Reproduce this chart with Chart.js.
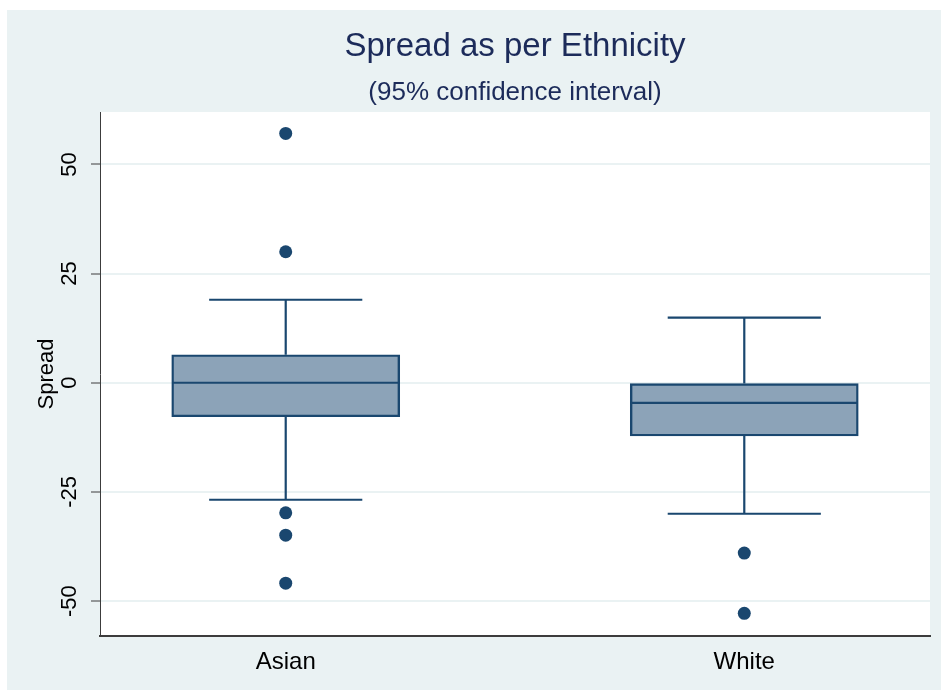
<!DOCTYPE html>
<html>
<head>
<meta charset="utf-8">
<title>Spread as per Ethnicity</title>
<script src="https://cdn.jsdelivr.net/npm/chart.js@4.4.0/dist/chart.umd.min.js"></script>
<style>
    html, body { margin: 0; padding: 0; background: #ffffff; }
    #wrap { position: relative; width: 941px; height: 690px; }
</style>
</head>
<body>
<div id="wrap"><canvas id="box-chart" width="941" height="690"></canvas></div>
<script>
// Box plot values
const categories = ['Asian', 'White'];
const whiskerLow = [-26.8, -30.0];
const lowerQuartile = [-7.8, -12.2];
const median = [0, -4.6];
const upperQuartile = [6.4, -0.2];
const whiskerHigh = [19.0, 14.9];
const outliers = [
    [57.1, 30.0, -29.8, -34.9, -45.9],
    [-39.0, -52.8]
];
const yTicks = [-50, -25, 0, 25, 50];

// Colours (Stata s2color look)
const NAVY = '#1a476f';
const BOX_FILL = '#8ca3b8';
const PANEL = '#eaf2f3';
const FONT = '"Liberation Sans", Arial, Helvetica, sans-serif';

// Positions on the category axis: 1, 2, ...
const xPos = categories.map((c, i) => i + 1);

const boxData = xPos.map((x, i) => ({ x: x, y: [lowerQuartile[i], upperQuartile[i]] }));
const outlierData = [];
outliers.forEach((list, i) => {
    list.forEach(v => outlierData.push({ x: xPos[i], y: v }));
});

/**
 * Background panel, white plot region, whiskers, medians and titles
 */
const boxPlotPlugin = {
    id: 'boxPlot',
    beforeDraw(chart) {
        const { ctx, chartArea } = chart;
        ctx.save();
        ctx.fillStyle = PANEL;
        ctx.fillRect(7, 10, chart.width - 7, chart.height - 10);
        ctx.fillStyle = '#ffffff';
        ctx.fillRect(chartArea.left, chartArea.top, chartArea.right - chartArea.left, chartArea.bottom - chartArea.top);
        ctx.restore();
    },
    beforeDatasetsDraw(chart) {
        const { ctx } = chart;
        const xs = chart.scales.x;
        const ys = chart.scales.y;
        const capHalf = 0.167;
        ctx.save();
        ctx.strokeStyle = NAVY;
        ctx.lineWidth = 2.2;
        xPos.forEach((x, i) => {
            const px = xs.getPixelForValue(x);
            const c0 = xs.getPixelForValue(x - capHalf);
            const c1 = xs.getPixelForValue(x + capHalf);
            const hi = ys.getPixelForValue(whiskerHigh[i]);
            const lo = ys.getPixelForValue(whiskerLow[i]);
            const q3 = ys.getPixelForValue(upperQuartile[i]);
            const q1 = ys.getPixelForValue(lowerQuartile[i]);
            ctx.beginPath();
            ctx.moveTo(px, q3); ctx.lineTo(px, hi);
            ctx.moveTo(c0, hi); ctx.lineTo(c1, hi);
            ctx.moveTo(px, q1); ctx.lineTo(px, lo);
            ctx.moveTo(c0, lo); ctx.lineTo(c1, lo);
            ctx.stroke();
        });
        ctx.restore();
    },
    afterDatasetDraw(chart, args) {
        if (args.index !== 0) return;
        const { ctx } = chart;
        const xs = chart.scales.x;
        const ys = chart.scales.y;
        const boxHalf = 0.248;
        ctx.save();
        ctx.strokeStyle = NAVY;
        ctx.lineWidth = 2.2;
        xPos.forEach((x, i) => {
            const m = ys.getPixelForValue(median[i]);
            ctx.beginPath();
            ctx.moveTo(xs.getPixelForValue(x - boxHalf), m);
            ctx.lineTo(xs.getPixelForValue(x + boxHalf), m);
            ctx.stroke();
        });
        ctx.restore();
    },
    afterDraw(chart) {
        const { ctx, chartArea } = chart;
        const cx = (chartArea.left + chartArea.right) / 2;
        ctx.save();
        ctx.fillStyle = '#1c2b5a';
        ctx.textAlign = 'center';
        ctx.textBaseline = 'middle';
        ctx.font = '33px ' + FONT;
        ctx.fillText('Spread as per Ethnicity', cx, 47);
        ctx.font = '26px ' + FONT;
        ctx.fillText('(95% confidence interval)', cx, 93);
        ctx.restore();
    }
};

const ctx = document.getElementById('box-chart');

new Chart(ctx, {
    type: 'scatter',
    data: {
        datasets: [{
            type: 'bar',
            label: 'Box',
            data: boxData,
            backgroundColor: BOX_FILL,
            borderColor: NAVY,
            borderWidth: 2.4,
            borderSkipped: false,
            barThickness: 228
        }, {
            type: 'scatter',
            label: 'Outliers',
            data: outlierData,
            backgroundColor: NAVY,
            borderWidth: 0,
            pointRadius: 6.5,
            pointHoverRadius: 6.5
        }]
    },
    options: {
        responsive: false,
        animation: false,
        events: [],
        layout: {
            padding: { top: 112, right: 11, left: 0, bottom: 0 }
        },
        plugins: {
            legend: { display: false },
            tooltip: { enabled: false },
            title: { display: false }
        },
        scales: {
            x: {
                type: 'linear',
                min: 0.595,
                max: 2.405,
                offset: false,
                afterFit(scale) { scale.height = 54; },
                afterBuildTicks(scale) { scale.ticks = xPos.map(v => ({ value: v })); },
                grid: { display: false, drawTicks: false, tickLength: 0 },
                border: { display: true, color: '#3c3c3c', width: 2 },
                ticks: {
                    padding: 12,
                    color: '#000000',
                    font: { family: FONT, size: 24 },
                    callback: value => categories[value - 1] || ''
                }
            },
            y: {
                type: 'linear',
                min: -58,
                max: 62,
                afterFit(scale) { scale.width = 100; },
                afterBuildTicks(scale) { scale.ticks = yTicks.map(v => ({ value: v })); },
                grid: {
                    color: PANEL,
                    lineWidth: 2,
                    drawTicks: true,
                    tickLength: 9,
                    tickColor: '#3c3c3c',
                    tickWidth: 1
                },
                border: { display: true, color: '#3c3c3c', width: 1 },
                ticks: {
                    minRotation: 90,
                    maxRotation: 90,
                    crossAlign: 'center',
                    padding: 5,
                    color: '#000000',
                    font: { family: FONT, size: 22 }
                },
                title: {
                    display: true,
                    text: 'Spread',
                    color: '#000000',
                    font: { family: FONT, size: 22 },
                    padding: { top: 34, bottom: 0 }
                }
            }
        }
    },
    plugins: [boxPlotPlugin]
});
</script>
</body>
</html>
